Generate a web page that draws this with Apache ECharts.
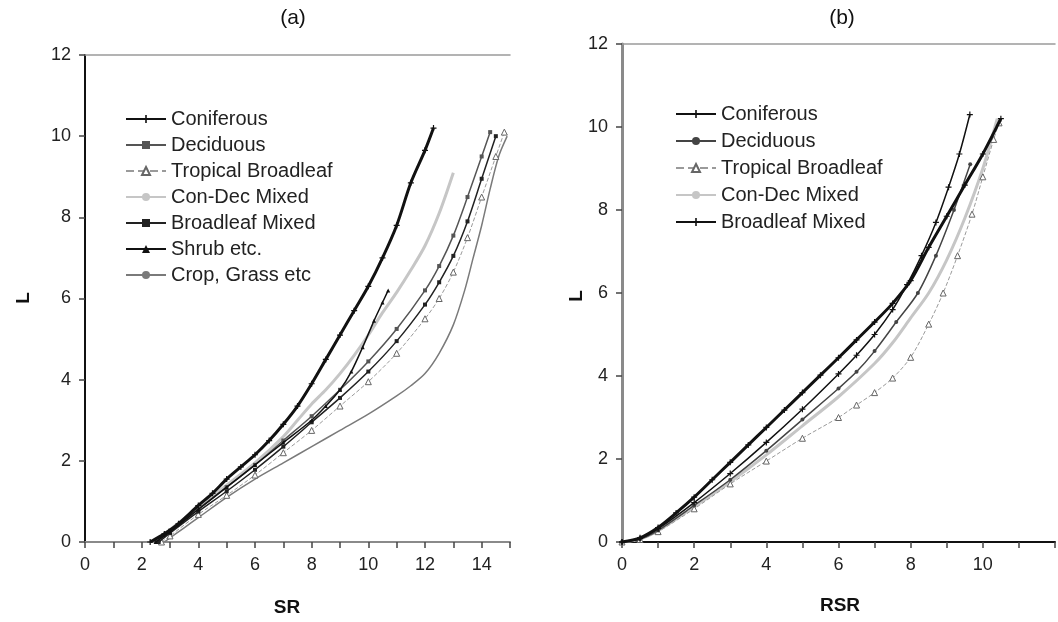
<!DOCTYPE html>
<html><head><meta charset="utf-8">
<script src="https://cdn.jsdelivr.net/npm/echarts@6/dist/echarts.min.js"></script>
<style>html,body{margin:0;padding:0;background:#fff}#c{width:1058px;height:622px}</style>
</head><body><div id="c"></div>
<script>
// ---------- data ----------
const namesA = ['Coniferous','Deciduous','Tropical Broadleaf','Con-Dec Mixed','Broadleaf Mixed','Shrub etc.','Crop, Grass etc'];
const namesB = ['Coniferous','Deciduous','Tropical Broadleaf','Con-Dec Mixed','Broadleaf Mixed'];
const xTickLabelsA = [0,2,4,6,8,10,12,14];
const xTickLabelsB = [0,2,4,6,8,10];
const yTickLabels = [0,2,4,6,8,10,12];

// panel (a): SR vs L
const coniferousA = [[2.3,0],[2.8,0.2],[3.3,0.45],[4,0.9],[4.5,1.2],[5,1.55],[5.5,1.85],[6,2.15],[6.5,2.5],[7,2.9],[7.5,3.35],[8,3.9],[8.5,4.5],[9,5.1],[9.5,5.7],[10,6.3],[10.5,7.0],[11,7.8],[11.5,8.85],[12,9.65],[12.3,10.2]];
const deciduousA = [[2.5,0],[3,0.28],[4,0.82],[5,1.35],[6,1.9],[7,2.5],[8,3.1],[9,3.75],[10,4.45],[11,5.25],[12,6.2],[12.5,6.8],[13,7.55],[13.5,8.5],[14,9.5],[14.3,10.1]];
const tropicalA = [[2.7,0],[3,0.15],[4,0.68],[5,1.15],[6,1.65],[7,2.2],[8,2.75],[9,3.35],[10,3.95],[11,4.65],[12,5.5],[12.5,6.0],[13,6.65],[13.5,7.5],[14,8.5],[14.5,9.5],[14.8,10.1]];
const conDecA = [[2.4,0],[3,0.3],[4,0.85],[5,1.4],[6,1.95],[7,2.6],[7.5,3.0],[8,3.4],[8.5,3.75],[9,4.15],[9.5,4.6],[10,5.1],[10.5,5.65],[11,6.15],[11.5,6.7],[12,7.3],[12.5,8.1],[13,9.1]];
const broadleafMixedA = [[2.6,0],[3,0.22],[4,0.75],[5,1.25],[6,1.78],[7,2.35],[8,2.95],[9,3.55],[10,4.2],[11,4.95],[12,5.85],[12.5,6.4],[13,7.05],[13.5,7.9],[14,8.95],[14.5,10.0]];
const shrubA = [[2.5,0],[3,0.25],[4,0.8],[5,1.35],[6,1.9],[7,2.45],[8,3.0],[8.5,3.35],[9,3.75],[9.4,4.2],[9.8,4.8],[10.2,5.45],[10.5,5.9],[10.7,6.2]];
const cropA = [[2.8,0],[3.5,0.35],[4,0.6],[5,1.1],[6,1.55],[7,1.95],[8,2.35],[9,2.75],[10,3.15],[11,3.6],[11.5,3.85],[12,4.15],[12.5,4.65],[13,5.35],[13.4,6.2],[13.7,7.0],[14,7.8],[14.3,8.7],[14.6,9.5],[14.9,10.0]];

// panel (b): RSR vs L
const coniferousB = [[0,0],[0.5,0.08],[1,0.32],[2,0.95],[3,1.65],[4,2.4],[5,3.2],[6,4.05],[6.5,4.5],[7,5.0],[7.5,5.6],[7.9,6.2],[8.3,6.9],[8.7,7.7],[9.05,8.55],[9.35,9.35],[9.64,10.3]];
const deciduousB = [[0,0],[0.5,0.07],[1,0.28],[2,0.88],[3,1.5],[4,2.2],[5,2.95],[6,3.7],[6.5,4.1],[7,4.6],[7.6,5.3],[8.2,6.0],[8.7,6.9],[9.2,8.0],[9.65,9.1]];
const tropicalB = [[0,0],[0.5,0.06],[1,0.25],[2,0.8],[3,1.4],[4,1.95],[5,2.5],[6,3.0],[6.5,3.3],[7,3.6],[7.5,3.95],[8,4.45],[8.5,5.25],[8.9,6.0],[9.3,6.9],[9.7,7.9],[10,8.8],[10.3,9.7],[10.45,10.1]];
const conDecB = [[0,0],[0.5,0.07],[1,0.27],[2,0.85],[3,1.45],[4,2.1],[5,2.8],[6,3.5],[7,4.3],[7.5,4.8],[8,5.4],[8.5,6.0],[9,6.8],[9.5,7.8],[10,9.0],[10.4,10.2]];
const broadleafMixedB = [[0,0],[0.5,0.1],[1,0.35],[1.5,0.7],[2,1.08],[2.5,1.5],[3,1.92],[3.5,2.34],[4,2.76],[4.5,3.18],[5,3.6],[5.5,4.02],[6,4.44],[6.5,4.87],[7,5.3],[7.5,5.75],[8,6.3],[8.5,7.1],[9,7.85],[9.5,8.6],[10,9.35],[10.5,10.2]];

// ---------- styles ----------
const PLUS = 'path://M4,0H6V4H10V6H6V10H4V6H0V4H4Z';
const styleA = {
  'Coniferous':        {color:'#111', width:3,   symbol:PLUS, size:6, z:9},
  'Deciduous':         {color:'#555', width:1.5, symbol:'rect', size:4, z:5},
  'Tropical Broadleaf':{color:'#9a9a9a', width:1, type:'dashed', symbol:'triangle', size:6, hollow:true, z:4},
  'Con-Dec Mixed':     {color:'#c6c6c6', width:3, symbol:'none', size:0, z:3},
  'Broadleaf Mixed':   {color:'#222', width:1.5, symbol:'rect', size:4, z:6},
  'Shrub etc.':        {color:'#111', width:1.5, symbol:'triangle', size:4, z:7},
  'Crop, Grass etc':   {color:'#7a7a7a', width:1.5, symbol:'none', size:0, z:2}
};
const styleB = {
  'Coniferous':        {color:'#111', width:1.5, symbol:PLUS, size:6, z:8},
  'Deciduous':         {color:'#444', width:1.5, symbol:'circle', size:4, z:6},
  'Tropical Broadleaf':{color:'#9a9a9a', width:1, type:'dashed', symbol:'triangle', size:6, hollow:true, z:4},
  'Con-Dec Mixed':     {color:'#c6c6c6', width:3, symbol:'none', size:0, z:3},
  'Broadleaf Mixed':   {color:'#111', width:3, symbol:PLUS, size:6, z:9}
};
const dataA = [coniferousA, deciduousA, tropicalA, conDecA, broadleafMixedA, shrubA, cropA];
const dataB = [coniferousB, deciduousB, tropicalB, conDecB, broadleafMixedB];

function mkSeries(name, st, data, idx, suffix){
  return {
    type:'line', name: name + suffix, xAxisIndex: idx, yAxisIndex: idx,
    data: data, smooth: 0.3, z: st.z,
    symbol: st.symbol, symbolSize: st.size, showSymbol: st.symbol !== 'none',
    lineStyle: {color: st.color, width: st.width, type: st.type || 'solid'},
    itemStyle: st.hollow ? {color:'#fff', borderColor:'#666', borderWidth:1} : {color: st.color},
    emphasis: {disabled: true}
  };
}
const series = [];
namesA.forEach((n,i)=>series.push(mkSeries(n, styleA[n], dataA[i], 0, '')));
namesB.forEach((n,i)=>series.push(mkSeries(n, styleB[n], dataB[i], 1, ' (b)')));

const labelFont = {fontFamily:'Liberation Sans, Arial, sans-serif', fontSize:18, color:'#222'};
function xAx(idx, max, labels, lineColor, lineWidth){
  return {
    type:'value', gridIndex: idx, min:0, max:max, interval:1,
    axisLine:{show:true, onZero:false, lineStyle:{color:lineColor, width:lineWidth}},
    axisTick:{show:true, length:6, lineStyle:{color:'#444', width:1.5}},
    axisLabel:Object.assign({margin:14, formatter: v => labels.includes(v) ? String(v) : ''}, labelFont),
    splitLine:{show:false}
  };
}
function yAx(idx, lineColor, lineWidth){
  return {
    type:'value', gridIndex: idx, min:0, max:12, interval:2,
    axisLine:{show:true, onZero:false, lineStyle:{color:lineColor, width:lineWidth}},
    axisTick:{show:true, length:6, lineStyle:{color:'#444', width:1.5}},
    axisLabel:Object.assign({margin:14, formatter: v => yTickLabels.includes(v) ? String(v) : ''}, labelFont),
    splitLine:{show:false}
  };
}
function topAx(idx, max){
  return {type:'value', gridIndex: idx, position:'top', min:0, max:max,
    axisLine:{show:true, onZero:false, lineStyle:{color:'#9a9a9a', width:1.5}},
    axisTick:{show:false}, axisLabel:{show:false}, splitLine:{show:false}};
}

const txt = (t, x, y, font, rot) => ({type:'text', x:x, y:y, rotation: rot || 0,
  style:{text:t, font:font, fill:'#111', align:'center', verticalAlign:'middle'}});

const option = {
  animation:false,
  backgroundColor:'#fff',
  grid:[
    {left:85, top:55, width:425, height:487},
    {left:622, top:44, width:461, height:498}
  ],
  xAxis:[ xAx(0, 15, xTickLabelsA, '#8a8a8a', 2), xAx(1, 12, xTickLabelsB, '#111', 2), topAx(0,15), topAx(1,12) ],
  yAxis:[ yAx(0, '#111', 2), yAx(1, '#8a8a8a', 3) ],
  legend:[
    {data:namesA, orient:'vertical', left:120, top:104, itemWidth:40, itemHeight:10, itemGap:6,
     textStyle:{fontFamily:'Liberation Sans, Arial, sans-serif', fontSize:20, color:'#222'},
     selectedMode:false},
    {data:namesB.map(n=>n+' (b)'), orient:'vertical', left:670, top:99, itemWidth:40, itemHeight:10, itemGap:7,
     formatter: n => n.replace(' (b)',''),
     textStyle:{fontFamily:'Liberation Sans, Arial, sans-serif', fontSize:20, color:'#222'},
     selectedMode:false}
  ],
  graphic:[
    txt('(a)', 293, 18, '21px Liberation Sans, Arial, sans-serif'),
    txt('(b)', 842, 18, '21px Liberation Sans, Arial, sans-serif'),
    txt('SR', 287, 608, 'bold 19px Liberation Sans, Arial, sans-serif'),
    txt('RSR', 840, 606, 'bold 19px Liberation Sans, Arial, sans-serif'),
    txt('L', 24, 298, 'bold 19px Liberation Sans, Arial, sans-serif', Math.PI/2),
    txt('L', 577, 296, 'bold 19px Liberation Sans, Arial, sans-serif', Math.PI/2)
  ],
  series: series
};
const chart = echarts.init(document.getElementById('c'), null, {renderer:'canvas'});
chart.setOption(option);
</script>
</body></html>
